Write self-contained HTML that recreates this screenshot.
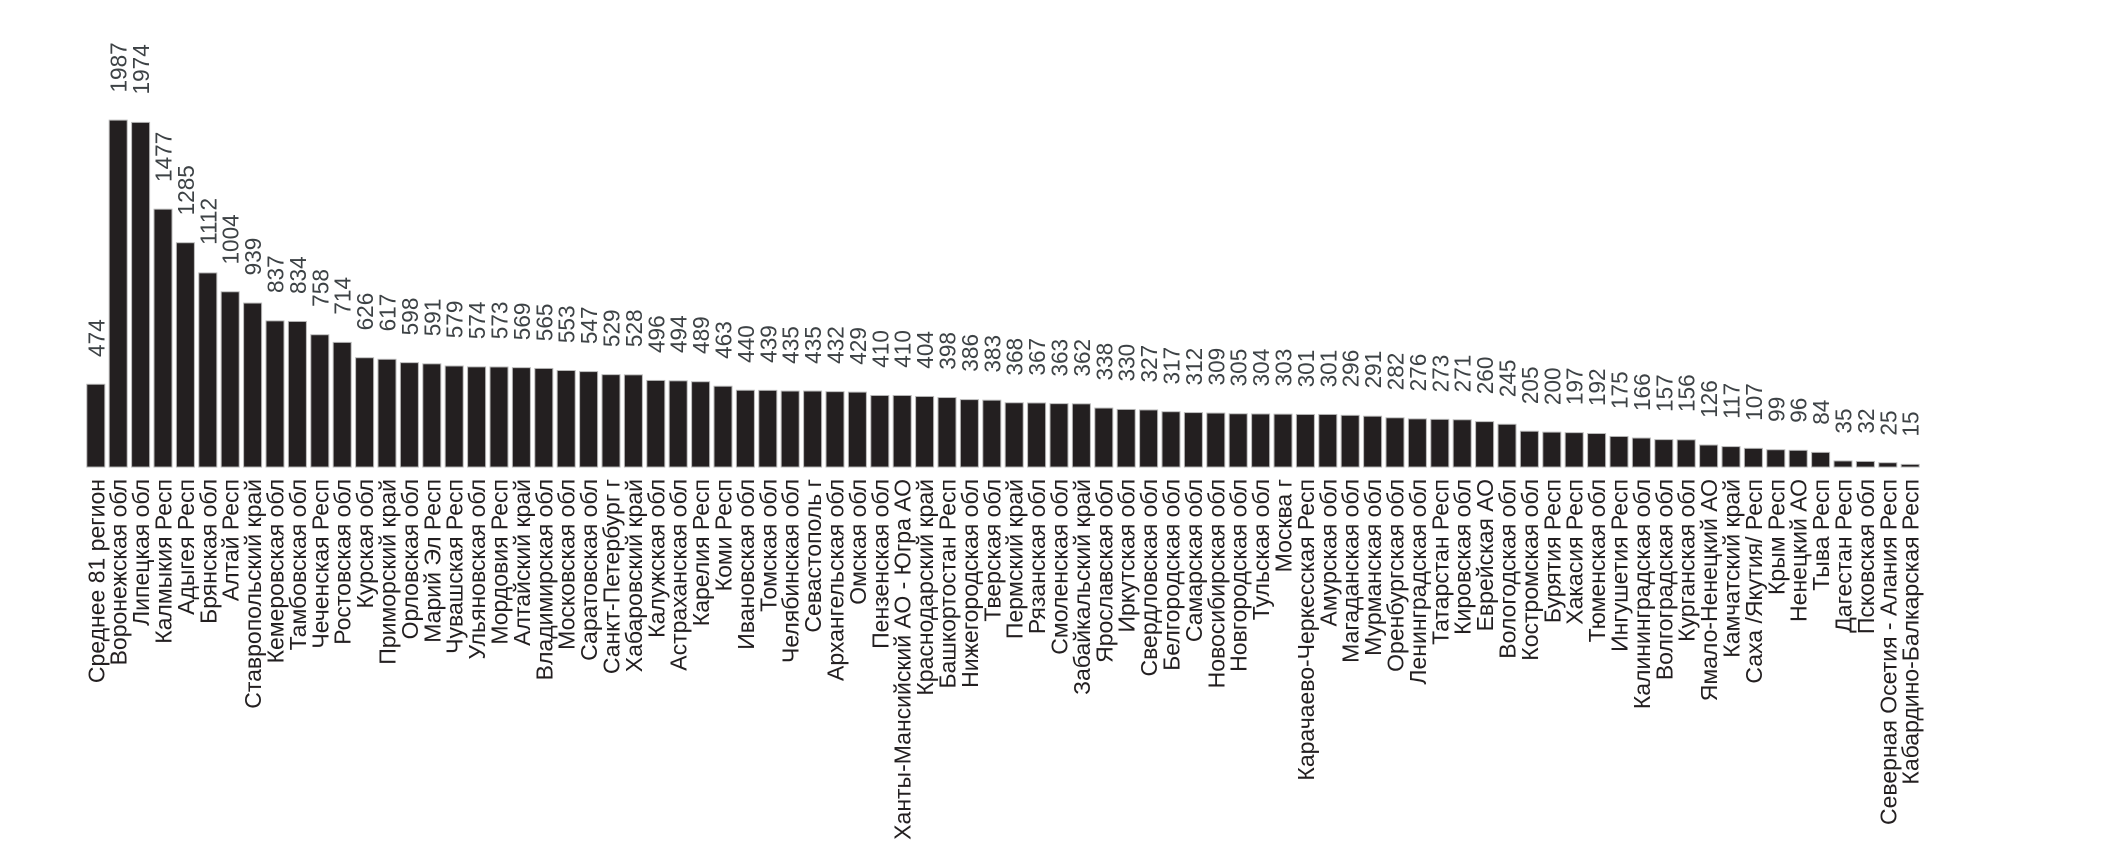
<!DOCTYPE html>
<html><head><meta charset="utf-8"><style>
html,body{margin:0;padding:0;background:#fff;}
svg{display:block;}
text{font-family:"Liberation Sans",sans-serif;font-size:23px;}
.c{fill:#231f20;text-anchor:end;}
.v{fill:#3d4245;}
rect{fill:#231f20;stroke:#b8b8b8;stroke-width:1;}
</style></head><body>
<svg width="2103" height="861" viewBox="0 0 2103 861">
<g transform="translate(-2.5,0)">
<g transform="matrix(1 0 0 0.983 0 7)">
<rect x="89.3" y="383.8" width="18" height="84.2"/><text class="v" transform="translate(106.8,356) rotate(-90)">474</text>
<rect x="111.7" y="115.1" width="18" height="352.9"/><text class="v" transform="translate(129.2,87) rotate(-90)">1987</text>
<rect x="134.1" y="117.4" width="18" height="350.6"/><text class="v" transform="translate(151.6,89) rotate(-90)">1974</text>
<rect x="156.5" y="205.7" width="18" height="262.3"/><text class="v" transform="translate(174.0,178) rotate(-90)">1477</text>
<rect x="178.9" y="239.8" width="18" height="228.2"/><text class="v" transform="translate(196.4,212) rotate(-90)">1285</text>
<rect x="201.3" y="270.5" width="18" height="197.5"/><text class="v" transform="translate(218.8,242) rotate(-90)">1112</text>
<rect x="223.7" y="289.7" width="18" height="178.3"/><text class="v" transform="translate(241.2,262) rotate(-90)">1004</text>
<rect x="246.1" y="301.2" width="18" height="166.8"/><text class="v" transform="translate(263.6,273) rotate(-90)">939</text>
<rect x="268.5" y="319.3" width="18" height="148.7"/><text class="v" transform="translate(286.0,291) rotate(-90)">837</text>
<rect x="290.9" y="319.9" width="18" height="148.1"/><text class="v" transform="translate(308.4,292) rotate(-90)">834</text>
<rect x="313.3" y="333.4" width="18" height="134.6"/><text class="v" transform="translate(330.8,305) rotate(-90)">758</text>
<rect x="335.7" y="341.2" width="18" height="126.8"/><text class="v" transform="translate(353.2,313) rotate(-90)">714</text>
<rect x="358.1" y="356.8" width="18" height="111.2"/><text class="v" transform="translate(375.6,329) rotate(-90)">626</text>
<rect x="380.5" y="358.4" width="18" height="109.6"/><text class="v" transform="translate(398.0,330) rotate(-90)">617</text>
<rect x="402.9" y="361.8" width="18" height="106.2"/><text class="v" transform="translate(420.4,334) rotate(-90)">598</text>
<rect x="425.3" y="363.0" width="18" height="105.0"/><text class="v" transform="translate(442.8,335) rotate(-90)">591</text>
<rect x="447.7" y="365.2" width="18" height="102.8"/><text class="v" transform="translate(465.2,337) rotate(-90)">579</text>
<rect x="470.1" y="366.1" width="18" height="101.9"/><text class="v" transform="translate(487.6,338) rotate(-90)">574</text>
<rect x="492.5" y="366.2" width="18" height="101.8"/><text class="v" transform="translate(510.0,338) rotate(-90)">573</text>
<rect x="514.9" y="366.9" width="18" height="101.1"/><text class="v" transform="translate(532.4,339) rotate(-90)">569</text>
<rect x="537.3" y="367.7" width="18" height="100.3"/><text class="v" transform="translate(554.8,340) rotate(-90)">565</text>
<rect x="559.7" y="369.8" width="18" height="98.2"/><text class="v" transform="translate(577.2,342) rotate(-90)">553</text>
<rect x="582.1" y="370.9" width="18" height="97.1"/><text class="v" transform="translate(599.6,343) rotate(-90)">547</text>
<rect x="604.5" y="374.0" width="18" height="94.0"/><text class="v" transform="translate(622.0,346) rotate(-90)">529</text>
<rect x="626.9" y="374.2" width="18" height="93.8"/><text class="v" transform="translate(644.4,346) rotate(-90)">528</text>
<rect x="649.3" y="379.9" width="18" height="88.1"/><text class="v" transform="translate(666.8,352) rotate(-90)">496</text>
<rect x="671.7" y="380.3" width="18" height="87.7"/><text class="v" transform="translate(689.2,352) rotate(-90)">494</text>
<rect x="694.1" y="381.2" width="18" height="86.8"/><text class="v" transform="translate(711.6,353) rotate(-90)">489</text>
<rect x="716.5" y="385.8" width="18" height="82.2"/><text class="v" transform="translate(734.0,358) rotate(-90)">463</text>
<rect x="738.9" y="389.9" width="18" height="78.1"/><text class="v" transform="translate(756.4,362) rotate(-90)">440</text>
<rect x="761.3" y="390.0" width="18" height="78.0"/><text class="v" transform="translate(778.8,362) rotate(-90)">439</text>
<rect x="783.7" y="390.7" width="18" height="77.3"/><text class="v" transform="translate(801.2,363) rotate(-90)">435</text>
<rect x="806.1" y="390.7" width="18" height="77.3"/><text class="v" transform="translate(823.6,363) rotate(-90)">435</text>
<rect x="828.5" y="391.3" width="18" height="76.7"/><text class="v" transform="translate(846.0,363) rotate(-90)">432</text>
<rect x="850.9" y="391.8" width="18" height="76.2"/><text class="v" transform="translate(868.4,364) rotate(-90)">429</text>
<rect x="873.3" y="395.2" width="18" height="72.8"/><text class="v" transform="translate(890.8,367) rotate(-90)">410</text>
<rect x="895.7" y="395.2" width="18" height="72.8"/><text class="v" transform="translate(913.2,367) rotate(-90)">410</text>
<rect x="918.1" y="396.2" width="18" height="71.8"/><text class="v" transform="translate(935.6,368) rotate(-90)">404</text>
<rect x="940.5" y="397.3" width="18" height="70.7"/><text class="v" transform="translate(958.0,369) rotate(-90)">398</text>
<rect x="962.9" y="399.4" width="18" height="68.6"/><text class="v" transform="translate(980.4,371) rotate(-90)">386</text>
<rect x="985.3" y="400.0" width="18" height="68.0"/><text class="v" transform="translate(1002.8,372) rotate(-90)">383</text>
<rect x="1007.7" y="402.6" width="18" height="65.4"/><text class="v" transform="translate(1025.2,375) rotate(-90)">368</text>
<rect x="1030.1" y="402.8" width="18" height="65.2"/><text class="v" transform="translate(1047.6,375) rotate(-90)">367</text>
<rect x="1052.5" y="403.5" width="18" height="64.5"/><text class="v" transform="translate(1070.0,376) rotate(-90)">363</text>
<rect x="1074.9" y="403.7" width="18" height="64.3"/><text class="v" transform="translate(1092.4,376) rotate(-90)">362</text>
<rect x="1097.3" y="408.0" width="18" height="60.0"/><text class="v" transform="translate(1114.8,380) rotate(-90)">338</text>
<rect x="1119.7" y="409.4" width="18" height="58.6"/><text class="v" transform="translate(1137.2,381) rotate(-90)">330</text>
<rect x="1142.1" y="409.9" width="18" height="58.1"/><text class="v" transform="translate(1159.6,382) rotate(-90)">327</text>
<rect x="1164.5" y="411.7" width="18" height="56.3"/><text class="v" transform="translate(1182.0,384) rotate(-90)">317</text>
<rect x="1186.9" y="412.6" width="18" height="55.4"/><text class="v" transform="translate(1204.4,385) rotate(-90)">312</text>
<rect x="1209.3" y="413.1" width="18" height="54.9"/><text class="v" transform="translate(1226.8,385) rotate(-90)">309</text>
<rect x="1231.7" y="413.8" width="18" height="54.2"/><text class="v" transform="translate(1249.2,386) rotate(-90)">305</text>
<rect x="1254.1" y="414.0" width="18" height="54.0"/><text class="v" transform="translate(1271.6,386) rotate(-90)">304</text>
<rect x="1276.5" y="414.2" width="18" height="53.8"/><text class="v" transform="translate(1294.0,386) rotate(-90)">303</text>
<rect x="1298.9" y="414.5" width="18" height="53.5"/><text class="v" transform="translate(1316.4,387) rotate(-90)">301</text>
<rect x="1321.3" y="414.5" width="18" height="53.5"/><text class="v" transform="translate(1338.8,387) rotate(-90)">301</text>
<rect x="1343.7" y="415.4" width="18" height="52.6"/><text class="v" transform="translate(1361.2,387) rotate(-90)">296</text>
<rect x="1366.1" y="416.3" width="18" height="51.7"/><text class="v" transform="translate(1383.6,388) rotate(-90)">291</text>
<rect x="1388.5" y="417.9" width="18" height="50.1"/><text class="v" transform="translate(1406.0,390) rotate(-90)">282</text>
<rect x="1410.9" y="419.0" width="18" height="49.0"/><text class="v" transform="translate(1428.4,391) rotate(-90)">276</text>
<rect x="1433.3" y="419.5" width="18" height="48.5"/><text class="v" transform="translate(1450.8,392) rotate(-90)">273</text>
<rect x="1455.7" y="419.9" width="18" height="48.1"/><text class="v" transform="translate(1473.2,392) rotate(-90)">271</text>
<rect x="1478.1" y="421.8" width="18" height="46.2"/><text class="v" transform="translate(1495.6,394) rotate(-90)">260</text>
<rect x="1500.5" y="424.5" width="18" height="43.5"/><text class="v" transform="translate(1518.0,397) rotate(-90)">245</text>
<rect x="1522.9" y="431.6" width="18" height="36.4"/><text class="v" transform="translate(1540.4,404) rotate(-90)">205</text>
<rect x="1545.3" y="432.5" width="18" height="35.5"/><text class="v" transform="translate(1562.8,405) rotate(-90)">200</text>
<rect x="1567.7" y="433.0" width="18" height="35.0"/><text class="v" transform="translate(1585.2,405) rotate(-90)">197</text>
<rect x="1590.1" y="433.9" width="18" height="34.1"/><text class="v" transform="translate(1607.6,406) rotate(-90)">192</text>
<rect x="1612.5" y="436.9" width="18" height="31.1"/><text class="v" transform="translate(1630.0,409) rotate(-90)">175</text>
<rect x="1634.9" y="438.5" width="18" height="29.5"/><text class="v" transform="translate(1652.4,411) rotate(-90)">166</text>
<rect x="1657.3" y="440.1" width="18" height="27.9"/><text class="v" transform="translate(1674.8,412) rotate(-90)">157</text>
<rect x="1679.7" y="440.3" width="18" height="27.7"/><text class="v" transform="translate(1697.2,412) rotate(-90)">156</text>
<rect x="1702.1" y="445.6" width="18" height="22.4"/><text class="v" transform="translate(1719.6,418) rotate(-90)">126</text>
<rect x="1724.5" y="447.2" width="18" height="20.8"/><text class="v" transform="translate(1742.0,419) rotate(-90)">117</text>
<rect x="1746.9" y="449.0" width="18" height="19.0"/><text class="v" transform="translate(1764.4,421) rotate(-90)">107</text>
<rect x="1769.3" y="450.4" width="18" height="17.6"/><text class="v" transform="translate(1786.8,422) rotate(-90)">99</text>
<rect x="1791.7" y="451.0" width="18" height="17.0"/><text class="v" transform="translate(1809.2,423) rotate(-90)">96</text>
<rect x="1814.1" y="453.1" width="18" height="14.9"/><text class="v" transform="translate(1831.6,425) rotate(-90)">84</text>
<rect x="1836.5" y="461.8" width="18" height="6.2"/><text class="v" transform="translate(1854.0,434) rotate(-90)">35</text>
<rect x="1858.9" y="462.3" width="18" height="5.7"/><text class="v" transform="translate(1876.4,434) rotate(-90)">32</text>
<rect x="1881.3" y="463.6" width="18" height="4.4"/><text class="v" transform="translate(1898.8,436) rotate(-90)">25</text>
<rect x="1903.7" y="465.3" width="18" height="2.7"/><text class="v" transform="translate(1921.2,437) rotate(-90)">15</text>
</g>
<text class="c" transform="translate(106.8,479) rotate(-90)">Среднее 81 регион</text>
<text class="c" transform="translate(129.2,479) rotate(-90)">Воронежская обл</text>
<text class="c" transform="translate(151.6,479) rotate(-90)">Липецкая обл</text>
<text class="c" transform="translate(174.0,479) rotate(-90)">Калмыкия Респ</text>
<text class="c" transform="translate(196.4,479) rotate(-90)">Адыгея Респ</text>
<text class="c" transform="translate(218.8,479) rotate(-90)">Брянская обл</text>
<text class="c" transform="translate(241.2,479) rotate(-90)">Алтай Респ</text>
<text class="c" transform="translate(263.6,479) rotate(-90)">Ставропольский край</text>
<text class="c" transform="translate(286.0,479) rotate(-90)">Кемеровская обл</text>
<text class="c" transform="translate(308.4,479) rotate(-90)">Тамбовская обл</text>
<text class="c" transform="translate(330.8,479) rotate(-90)">Чеченская Респ</text>
<text class="c" transform="translate(353.2,479) rotate(-90)">Ростовская обл</text>
<text class="c" transform="translate(375.6,479) rotate(-90)">Курская обл</text>
<text class="c" transform="translate(398.0,479) rotate(-90)">Приморский край</text>
<text class="c" transform="translate(420.4,479) rotate(-90)">Орловская обл</text>
<text class="c" transform="translate(442.8,479) rotate(-90)">Марий Эл Респ</text>
<text class="c" transform="translate(465.2,479) rotate(-90)">Чувашская Респ</text>
<text class="c" transform="translate(487.6,479) rotate(-90)">Ульяновская обл</text>
<text class="c" transform="translate(510.0,479) rotate(-90)">Мордовия Респ</text>
<text class="c" transform="translate(532.4,479) rotate(-90)">Алтайский край</text>
<text class="c" transform="translate(554.8,479) rotate(-90)">Владимирская обл</text>
<text class="c" transform="translate(577.2,479) rotate(-90)">Московская обл</text>
<text class="c" transform="translate(599.6,479) rotate(-90)">Саратовская обл</text>
<text class="c" transform="translate(622.0,479) rotate(-90)">Санкт-Петербург г</text>
<text class="c" transform="translate(644.4,479) rotate(-90)">Хабаровский край</text>
<text class="c" transform="translate(666.8,479) rotate(-90)">Калужская обл</text>
<text class="c" transform="translate(689.2,479) rotate(-90)">Астраханская обл</text>
<text class="c" transform="translate(711.6,479) rotate(-90)">Карелия Респ</text>
<text class="c" transform="translate(734.0,479) rotate(-90)">Коми Респ</text>
<text class="c" transform="translate(756.4,479) rotate(-90)">Ивановская обл</text>
<text class="c" transform="translate(778.8,479) rotate(-90)">Томская обл</text>
<text class="c" transform="translate(801.2,479) rotate(-90)">Челябинская обл</text>
<text class="c" transform="translate(823.6,479) rotate(-90)">Севастополь г</text>
<text class="c" transform="translate(846.0,479) rotate(-90)">Архангельская обл</text>
<text class="c" transform="translate(868.4,479) rotate(-90)">Омская обл</text>
<text class="c" transform="translate(890.8,479) rotate(-90)">Пензенская обл</text>
<text class="c" transform="translate(913.2,479) rotate(-90)">Ханты-Мансийский АО - Югра АО</text>
<text class="c" transform="translate(935.6,479) rotate(-90)">Краснодарский край</text>
<text class="c" transform="translate(958.0,479) rotate(-90)">Башкортостан Респ</text>
<text class="c" transform="translate(980.4,479) rotate(-90)">Нижегородская обл</text>
<text class="c" transform="translate(1002.8,479) rotate(-90)">Тверская обл</text>
<text class="c" transform="translate(1025.2,479) rotate(-90)">Пермский край</text>
<text class="c" transform="translate(1047.6,479) rotate(-90)">Рязанская обл</text>
<text class="c" transform="translate(1070.0,479) rotate(-90)">Смоленская обл</text>
<text class="c" transform="translate(1092.4,479) rotate(-90)">Забайкальский край</text>
<text class="c" transform="translate(1114.8,479) rotate(-90)">Ярославская обл</text>
<text class="c" transform="translate(1137.2,479) rotate(-90)">Иркутская обл</text>
<text class="c" transform="translate(1159.6,479) rotate(-90)">Свердловская обл</text>
<text class="c" transform="translate(1182.0,479) rotate(-90)">Белгородская обл</text>
<text class="c" transform="translate(1204.4,479) rotate(-90)">Самарская обл</text>
<text class="c" transform="translate(1226.8,479) rotate(-90)">Новосибирская обл</text>
<text class="c" transform="translate(1249.2,479) rotate(-90)">Новгородская обл</text>
<text class="c" transform="translate(1271.6,479) rotate(-90)">Тульская обл</text>
<text class="c" transform="translate(1294.0,479) rotate(-90)">Москва г</text>
<text class="c" transform="translate(1316.4,479) rotate(-90)">Карачаево-Черкесская Респ</text>
<text class="c" transform="translate(1338.8,479) rotate(-90)">Амурская обл</text>
<text class="c" transform="translate(1361.2,479) rotate(-90)">Магаданская обл</text>
<text class="c" transform="translate(1383.6,479) rotate(-90)">Мурманская обл</text>
<text class="c" transform="translate(1406.0,479) rotate(-90)">Оренбургская обл</text>
<text class="c" transform="translate(1428.4,479) rotate(-90)">Ленинградская обл</text>
<text class="c" transform="translate(1450.8,479) rotate(-90)">Татарстан Респ</text>
<text class="c" transform="translate(1473.2,479) rotate(-90)">Кировская обл</text>
<text class="c" transform="translate(1495.6,479) rotate(-90)">Еврейская АО</text>
<text class="c" transform="translate(1518.0,479) rotate(-90)">Вологодская обл</text>
<text class="c" transform="translate(1540.4,479) rotate(-90)">Костромская обл</text>
<text class="c" transform="translate(1562.8,479) rotate(-90)">Бурятия Респ</text>
<text class="c" transform="translate(1585.2,479) rotate(-90)">Хакасия Респ</text>
<text class="c" transform="translate(1607.6,479) rotate(-90)">Тюменская обл</text>
<text class="c" transform="translate(1630.0,479) rotate(-90)">Ингушетия Респ</text>
<text class="c" transform="translate(1652.4,479) rotate(-90)">Калининградская обл</text>
<text class="c" transform="translate(1674.8,479) rotate(-90)">Волгоградская обл</text>
<text class="c" transform="translate(1697.2,479) rotate(-90)">Курганская обл</text>
<text class="c" transform="translate(1719.6,479) rotate(-90)">Ямало-Ненецкий АО</text>
<text class="c" transform="translate(1742.0,479) rotate(-90)">Камчатский край</text>
<text class="c" transform="translate(1764.4,479) rotate(-90)">Саха /Якутия/ Респ</text>
<text class="c" transform="translate(1786.8,479) rotate(-90)">Крым Респ</text>
<text class="c" transform="translate(1809.2,479) rotate(-90)">Ненецкий АО</text>
<text class="c" transform="translate(1831.6,479) rotate(-90)">Тыва Респ</text>
<text class="c" transform="translate(1854.0,479) rotate(-90)">Дагестан Респ</text>
<text class="c" transform="translate(1876.4,479) rotate(-90)">Псковская обл</text>
<text class="c" transform="translate(1898.8,479) rotate(-90)">Северная Осетия - Алания Респ</text>
<text class="c" transform="translate(1921.2,479) rotate(-90)">Кабардино-Балкарская Респ</text>
</g>
</svg>
</body></html>
